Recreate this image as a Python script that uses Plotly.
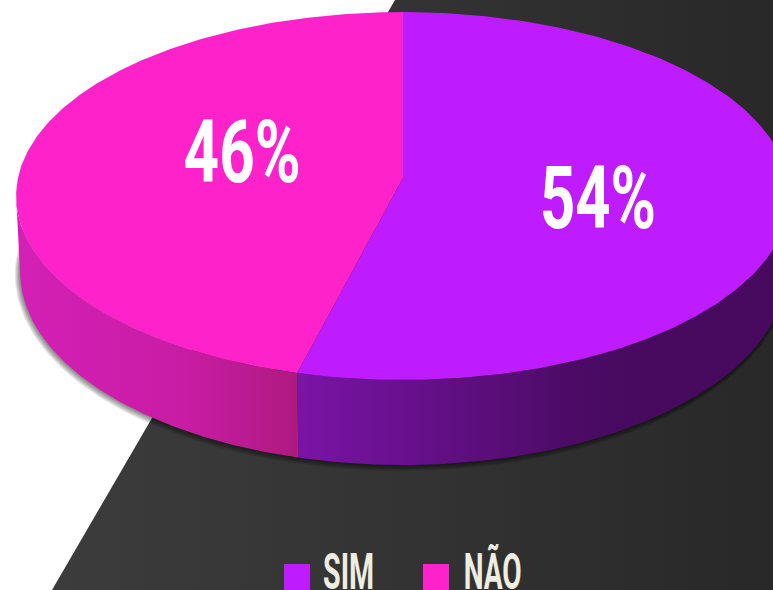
import json
import numpy as np
import plotly.graph_objects as go

categories = ["SIM", "NÃO"]
values = [54, 46]
top_colors = ["#BE1CFF", "#FD22C9"]
wall_scales = [
    [[0, "#7A14A6"], [0.8, "#4C0B66"], [1, "#470A5E"]],
    [[0, "#D420B6"], [0.6, "#C81CA4"], [1, "#AE1A80"]],
]
wall_ranges = [(297, 640), (18, 297)]
label_pos = [(598, 198), (241.5, 152)]
label_widths = [116, 117]
legend_marks = [(297, 577), (436, 577)]
legend_text_x = [348.5, 492]
legend_widths = [51, 58]

W, H = 773, 590
CX = 403
K = 0.0979
TOP = dict(y0=178, a=182.2, b=385.0)
BOT = dict(y0=253, a=191.2, b=381.0)


def disc(theta_deg, y0, a, b, dx=0, dy=0):
    t = np.radians(theta_deg)
    u, v = np.sin(t), -np.cos(t)
    den = 1 - K * v
    return CX + dx + b * u / den, y0 + dy + a * v / den


fig = go.Figure()

# dark backdrop
fig.add_trace(go.Scatter(
    x=[395, W, W, 52, 395], y=[0, 0, H, H, 0], mode="lines", fill="toself",
    line=dict(width=0), hoverinfo="skip",
    fillgradient=dict(type="horizontal", start=52, stop=W,
                      colorscale=[[0, "#3C3C3C"], [0.5, "#333333"], [1, "#282828"]]),
))

# soft shadow beneath the disc
for d in range(1, 7):
    th = np.linspace(0, 360, 361)
    x, y = disc(th, BOT["y0"], BOT["a"] + d * 0.6, BOT["b"] + d * 0.6, dx=-0.3 * d, dy=0.35 * d)
    fig.add_trace(go.Scatter(x=x, y=y, mode="lines", fill="toself", line=dict(width=0),
                             fillcolor="rgba(0,0,0,0.09)", hoverinfo="skip"))

shares = np.array(values) / sum(values) * 360
edges = np.concatenate([[0], np.cumsum(shares)])
right_end = np.degrees(np.arccos(-K))
left_end = 360 - right_end
wall_spans = [(right_end, edges[1]), (edges[1], left_end)]

# extruded side walls
for (a0, a1), scale, (g0, g1) in zip(wall_spans, wall_scales, wall_ranges):
    th = np.linspace(a0, a1, 160)
    xb, yb = disc(th, BOT["y0"], BOT["a"], BOT["b"])
    xt, yt = disc(th[::-1], TOP["y0"], TOP["a"], TOP["b"])
    fig.add_trace(go.Scatter(
        x=np.r_[xb, xt, xb[0]], y=np.r_[yb, yt, yb[0]], mode="lines", fill="toself",
        line=dict(width=0), hoverinfo="skip",
        fillgradient=dict(type="horizontal", start=g0, stop=g1, colorscale=scale),
    ))

# top face slices
for i, name in enumerate(categories):
    th = np.linspace(edges[i], edges[i + 1], 240)
    x, y = disc(th, **TOP)
    fig.add_trace(go.Scatter(
        x=np.r_[CX, x, CX], y=np.r_[TOP["y0"], y, TOP["y0"]], mode="lines", fill="toself",
        line=dict(width=0), fillcolor=top_colors[i], name=name, hoverinfo="skip",
    ))

# legend swatches
fig.add_trace(go.Scatter(
    x=[p[0] for p in legend_marks], y=[p[1] for p in legend_marks], mode="markers",
    marker=dict(symbol="square", size=26, color=top_colors, line=dict(width=0)),
    hoverinfo="skip",
))

FONT = "Roboto, sans-serif"
annotations = []
for v, (x, y) in zip(values, label_pos):
    annotations.append(dict(x=x, y=y, text=f"<b>{v}%</b>", showarrow=False, xanchor="center",
                            yanchor="middle", font=dict(family=FONT, size=87, color="#FFFFFF")))
for name, x in zip(categories, legend_text_x):
    annotations.append(dict(x=x, y=572, text=f"<b>{name}</b>", showarrow=False, xanchor="center",
                            yanchor="middle", font=dict(family=FONT, size=50, color="#EFECE0")))

fig.update_layout(
    width=W, height=H, margin=dict(l=0, r=0, t=0, b=0), showlegend=False,
    paper_bgcolor="#FFFFFF", plot_bgcolor="#FFFFFF",
    xaxis=dict(range=[0, W], visible=False, fixedrange=True),
    yaxis=dict(range=[H, 0], visible=False, fixedrange=True),
    annotations=annotations,
)

# The reference uses a tall condensed face; none is installed, so squeeze the glyphs.
text_widths = label_widths + legend_widths
post = (
    "document.body.style.margin='0';document.body.style.overflow='hidden';"
    "var w=" + json.dumps(text_widths) + ";"
    "document.querySelectorAll('.annotation-text').forEach(function(t,i){"
    "t.setAttribute('textLength',w[i]);t.setAttribute('lengthAdjust','spacingAndGlyphs');});"
)
fig.write_html("out.html", config=dict(displayModeBar=False), post_script=post)
